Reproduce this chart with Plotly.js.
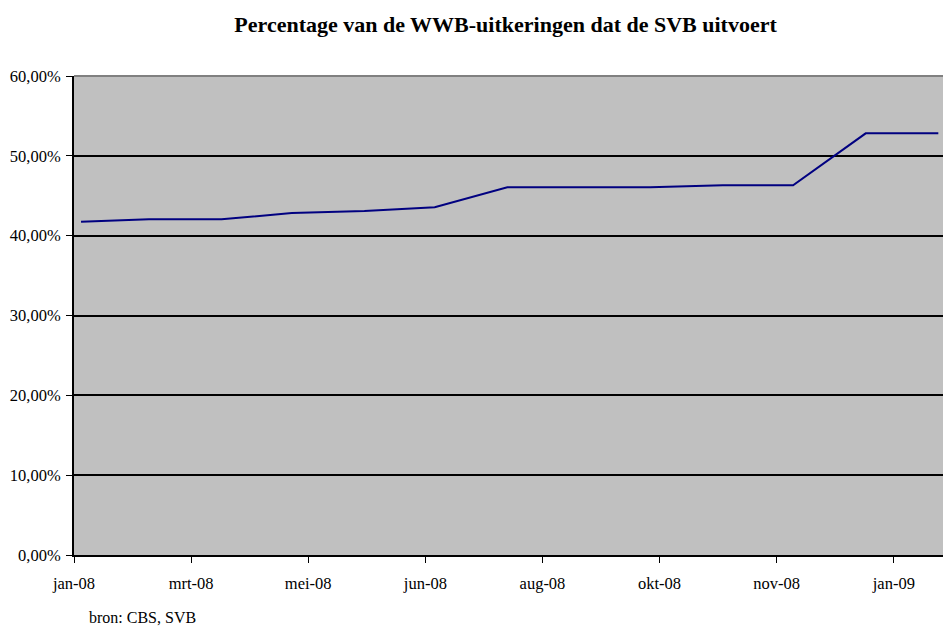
<!DOCTYPE html>
<html>
<head>
<meta charset="utf-8">
<script src="https://cdn.plot.ly/plotly-3.0.1.min.js"></script>
<style>html,body{margin:0;padding:0;background:#fff;}#chart{width:945px;height:631px;}</style>
</head>
<body>
<div id="chart"></div>
<script>
// Data (month-end reporting dates)
const dates = ['2008-01-31','2008-02-29','2008-03-31','2008-04-30','2008-05-31','2008-06-30',
               '2008-07-31','2008-08-31','2008-09-30','2008-10-31','2008-11-30','2008-12-31','2009-01-31'];
const shareSVB = [0.4175, 0.4205, 0.4205, 0.4284, 0.4309, 0.4355,
                  0.4606, 0.4606, 0.4606, 0.4631, 0.4631, 0.5282, 0.5282];
// X tick positions (50-day date axis) and Dutch labels
const xTickVals = ['2008-01-28','2008-03-18','2008-05-07','2008-06-26','2008-08-15','2008-10-04','2008-11-23','2009-01-12'];
const xTickText = ['jan-08','mrt-08','mei-08','jun-08','aug-08','okt-08','nov-08','jan-09'];
const yTickVals = [0, 0.1, 0.2, 0.3, 0.4, 0.5, 0.6];

const serif = "'Liberation Serif', 'Times New Roman', serif";

Plotly.newPlot('chart', [{
  x: dates, y: shareSVB, type: 'scatter', mode: 'lines',
  line: {color: '#000080', width: 2}, hoverinfo: 'skip'
}], {
  width: 945, height: 631,
  margin: {l: 74, r: 2, t: 76, b: 76},
  paper_bgcolor: '#ffffff', plot_bgcolor: '#c0c0c0',
  separators: ',.',
  showlegend: false,
  title: {text: '<b>Percentage van de WWB-uitkeringen dat de SVB uitvoert</b>',
          font: {family: serif, size: 22, color: '#000'},
          x: 0.535, xanchor: 'center', y: 0.961, yanchor: 'middle'},
  xaxis: {
    type: 'date', range: ['2008-01-28', '2009-02-02'],
    tickmode: 'array', tickvals: xTickVals, ticktext: xTickText,
    ticks: 'outside', ticklen: 6, tickcolor: '#000', tickwidth: 1,
    showgrid: false, zeroline: false,
    showline: true, linecolor: '#000', linewidth: 2,
    tickfont: {family: serif, size: 16.5, color: '#000'},
    ticklabelstandoff: 6
  },
  yaxis: {
    range: [0, 0.6], tickmode: 'array', tickvals: yTickVals, tickformat: '.2%',
    ticks: 'outside', ticklen: 6, tickcolor: '#000', tickwidth: 1,
    showgrid: true, gridcolor: '#000', gridwidth: 2,
    zeroline: false, showline: true, linecolor: '#000', linewidth: 2,
    tickfont: {family: serif, size: 16.5, color: '#000'},
    ticklabelstandoff: 2
  },
  shapes: [{type: 'line', xref: 'paper', yref: 'paper', x0: 0, x1: 1, y0: 1, y1: 1,
            line: {color: '#808080', width: 2}}],
  annotations: [{
    text: 'bron: CBS, SVB', xref: 'paper', yref: 'paper',
    x: 0, xshift: 13, y: 0, yshift: -62, xanchor: 'left', yanchor: 'middle',
    showarrow: false, font: {family: serif, size: 16, color: '#000'}
  }]
}, {displayModeBar: false, staticPlot: true});
</script>
</body>
</html>
